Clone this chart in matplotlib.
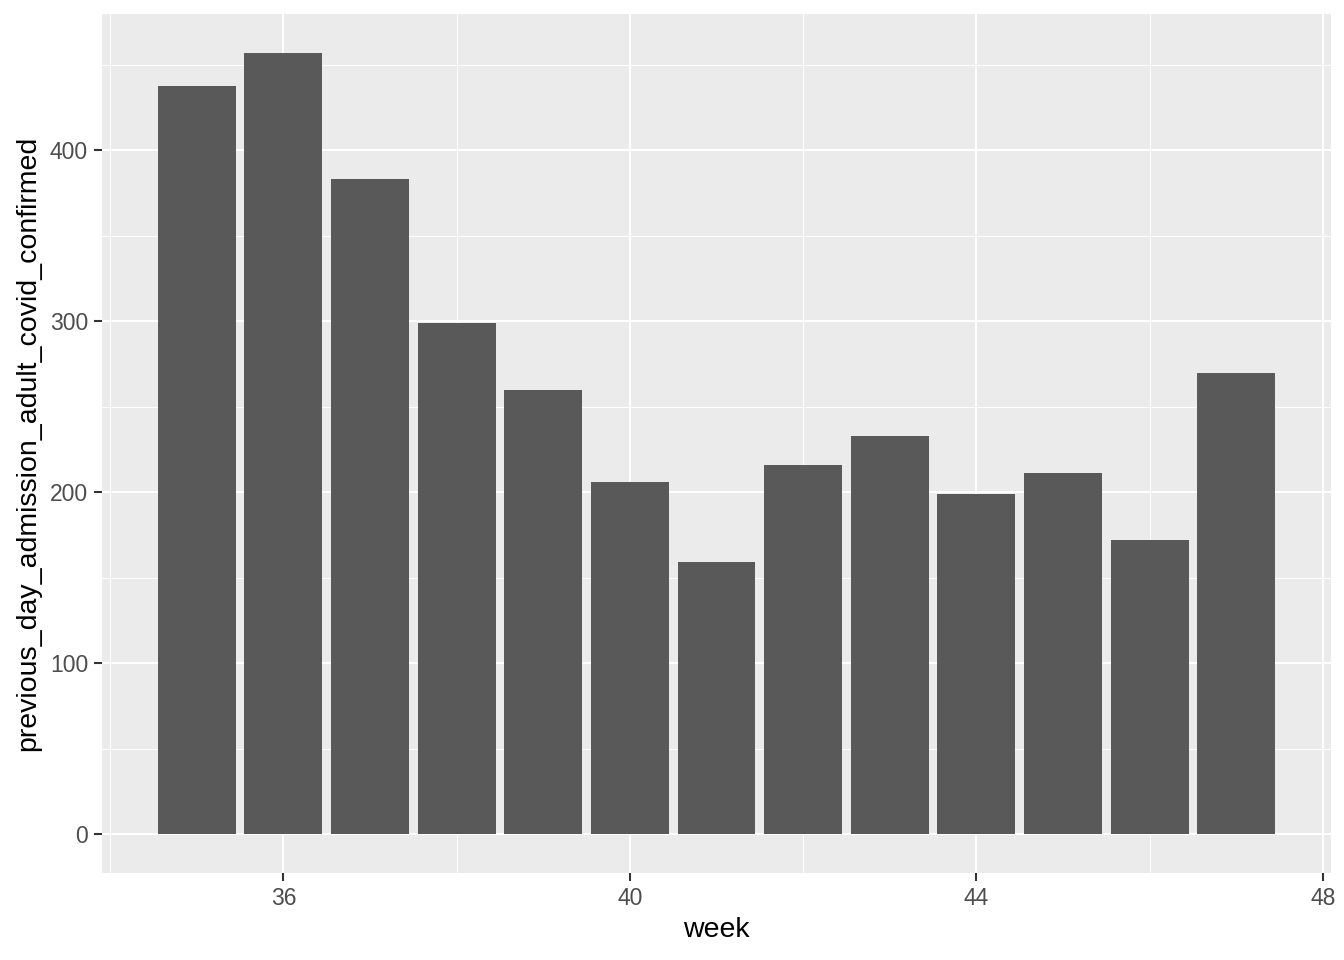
import matplotlib.pyplot as plt
from matplotlib.ticker import MultipleLocator

plt.rcParams['font.family'] = ['Liberation Sans', 'DejaVu Sans']

# weekly admissions
weeks = [35, 36, 37, 38, 39, 40, 41, 42, 43, 44, 45, 46, 47]
admissions = [438, 457, 383, 299, 260, 206, 159, 216, 233, 199, 211, 172, 270]

fig = plt.figure(figsize=(13.44, 9.6), dpi=100)
ax = fig.add_axes([102/1344, 1 - 873/960, (1331 - 102)/1344, (873 - 14)/960])
ax.set_facecolor('#EBEBEB')

ax.bar(weeks, admissions, width=0.9, color='#595959', zorder=3)

# ggplot-like expansion
xmin, xmax = min(weeks) - 0.45, max(weeks) + 0.45
pad = (xmax - xmin) * 0.05
ax.set_xlim(xmin - pad, xmax + pad)
ymax = max(admissions)
ax.set_ylim(-ymax * 0.05, ymax * 1.05)

ax.xaxis.set_major_locator(MultipleLocator(4))
ax.xaxis.set_minor_locator(MultipleLocator(2))
ax.yaxis.set_major_locator(MultipleLocator(100))
ax.yaxis.set_minor_locator(MultipleLocator(50))

ax.grid(which='major', color='white', linewidth=1.5, zorder=1)
ax.grid(which='minor', color='white', linewidth=0.75, zorder=1)
ax.set_axisbelow(True)

for s in ax.spines.values():
    s.set_visible(False)

ax.tick_params(axis='both', which='major', labelsize=16.5, labelcolor='#4D4D4D',
               color='#333333', length=6, width=1.5, pad=4)
ax.tick_params(axis='both', which='minor', length=0)

ax.set_xlabel('week', fontsize=20.5, color='black', labelpad=5)
ax.set_ylabel('previous_day_admission_adult_covid_confirmed', fontsize=20.5,
              color='black', labelpad=6)

fig.savefig('out.png', dpi=100, facecolor='white')
